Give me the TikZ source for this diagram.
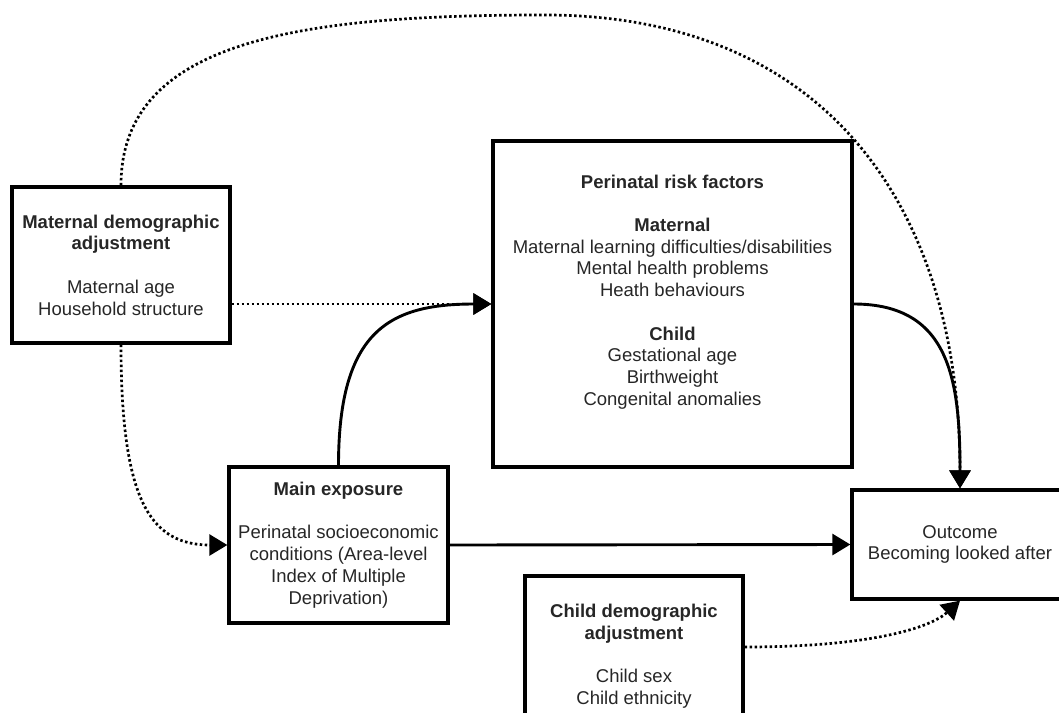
\documentclass[tikz,border=0pt]{standalone}
\usepackage{fontspec}
\setmainfont{Liberation Sans}
\usetikzlibrary{arrows.meta,positioning}

\begin{document}
\begin{tikzpicture}[x=1pt,y=-1pt]
    \tikzset{every path/.style={>={Triangle[length=18pt,width=21pt]}},
      block/.style={rectangle,draw,line width=3.3pt,align=center,text=black!85,
        font=\fontsize{18.5}{21.7}\selectfont},
      solidarrow/.style={->,line width=2.9pt},
      dotarrow/.style={->,line width=2.7pt,dash pattern=on 2.5pt off 2.5pt}}
    \clip (0,0) rectangle (1059,712);
% boxes
    \node [block,minimum width=218pt,minimum height=156pt] (maternal) at (121,265)
      {\textbf{Maternal demographic}\\\textbf{adjustment}\\[21.7pt]Maternal age\\Household structure};
    \node [block,minimum width=359pt,minimum height=326pt] (perinatal) at (672.5,304)
      {\textbf{Perinatal risk factors}\\[21.7pt]\textbf{Maternal}\\Maternal learning difficulties/disabilities\\
       Mental health problems\\Heath behaviours\\[21.7pt]\textbf{Child}\\Gestational age\\Birthweight\\
       Congenital anomalies\\\strut};
    \node [block,minimum width=219pt,minimum height=156pt] (main) at (338.5,545)
      {\textbf{Main exposure}\\[21.7pt]Perinatal socioeconomic\\conditions (Area-level\\Index of Multiple\\Deprivation)};
    \node [block,minimum width=216pt,minimum height=109pt] (outcome) at (960,544.5)
      {Outcome\\Becoming looked after};
    \node [block,minimum width=218pt,minimum height=160pt] (child) at (634,656)
      {\textbf{Child demographic}\\\textbf{adjustment}\\[21.7pt]Child sex\\Child ethnicity};
% connectors
    \draw [dotarrow] (maternal.north) .. controls (121,40) and (300,15) .. (545,15)
      .. controls (820,15) and (960,200) .. (outcome.north);
    \draw [dotarrow] (maternal.east |- perinatal.west) -- (perinatal.west);
    \draw [dotarrow] (maternal.south) .. controls (121,500) and (150,545) .. (main.west);
    \draw [solidarrow] (main.north) .. controls (338.5,330) and (390,304) .. (perinatal.west);
    \draw [solidarrow] (main.east) -- (outcome.west);
    \draw [solidarrow] (perinatal.east) .. controls (950,304) and (960,380) .. (outcome.north);
    \draw [dotarrow] ([yshift=9pt]child.east) .. controls (870,647) and (930,628) .. (outcome.south);
\end{tikzpicture}
\end{document}
